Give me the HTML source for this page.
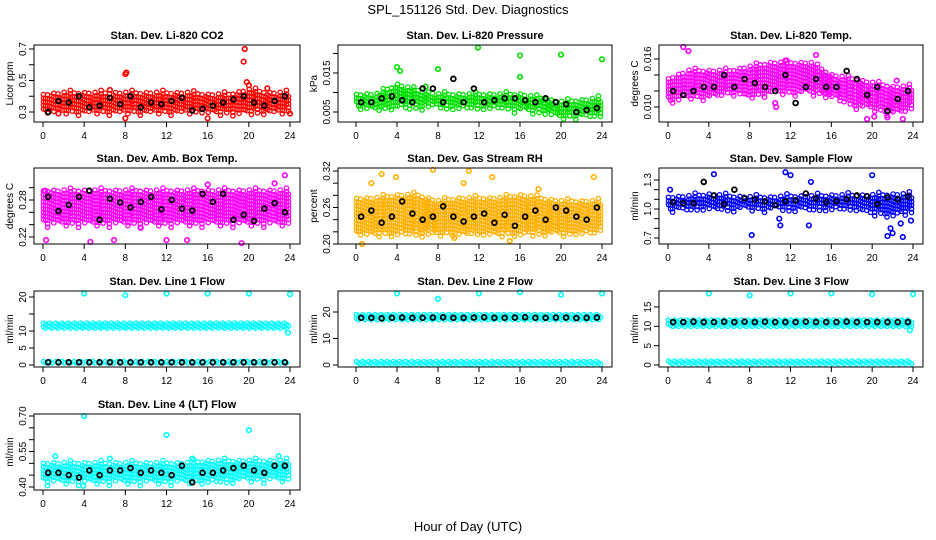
<!DOCTYPE html>
<html><head><meta charset="utf-8">
<style>
body{margin:0;background:#fff;}
svg{display:block;font-family:"Liberation Sans",sans-serif;}
</style></head>
<body>
<svg id="chart" width="936" height="540" viewBox="0 0 936 540">
<rect width="936" height="540" fill="#fff"/>
<text x="468" y="14" text-anchor="middle" font-size="13">SPL_151126  Std. Dev. Diagnostics</text>
<text x="468" y="531" text-anchor="middle" font-size="13">Hour of Day (UTC)</text>
</svg>
<script>
// x categories
const bandHours = [0,2,4,6,8,10,12,14,16,18,20,22,24];
const blackHours = [0.5,1.5,2.5,3.5,4.5,5.5,6.5,7.5,8.5,9.5,10.5,11.5,12.5,13.5,14.5,15.5,16.5,17.5,18.5,19.5,20.5,21.5,22.5,23.5];
const xTicks = [0,4,8,12,16,20,24];

// CO2
const co2Lo = [0.31,0.31,0.31,0.31,0.31,0.31,0.31,0.31,0.31,0.31,0.31,0.31,0.31];
const co2Hi = [0.41,0.42,0.42,0.42,0.42,0.42,0.42,0.42,0.41,0.41,0.44,0.42,0.42];
const co2Black = [0.30,0.37,0.36,0.40,0.33,0.34,0.39,0.35,0.40,0.33,0.36,0.35,0.37,0.39,0.31,0.32,0.34,0.36,0.38,0.40,0.36,0.34,0.37,0.40];
const co2OutH = [8,8.1,19.6,19.5,8,16,1.5,6.5,19.8,21.8,20,24];
const co2OutV = [0.54,0.55,0.70,0.62,0.26,0.26,0.29,0.44,0.49,0.45,0.47,0.29];
// Pressure
const presLo = [0.0065,0.006,0.0065,0.007,0.007,0.0065,0.0065,0.0065,0.006,0.0055,0.004,0.0045,0.0045];
const presHi = [0.0095,0.0095,0.012,0.0105,0.0095,0.0095,0.0095,0.0095,0.0095,0.0085,0.0075,0.008,0.0085];
const presBlack = [0.0075,0.0075,0.0085,0.009,0.008,0.0075,0.011,0.011,0.0075,0.0135,0.0075,0.011,0.0075,0.008,0.0085,0.0085,0.008,0.0075,0.0085,0.0075,0.007,0.005,0.0055,0.006];
const presOutH = [4,4.3,8,11.9,16,16,20,24,6.8,18.2];
const presOutV = [0.0165,0.0155,0.016,0.0215,0.0195,0.014,0.0197,0.0185,0.0115,0.008];
// Li-820 temp
const tempLo = [0.011,0.0115,0.0115,0.012,0.0115,0.012,0.012,0.012,0.0115,0.0105,0.010,0.0095,0.010];
const tempHi = [0.0135,0.0145,0.0145,0.0145,0.015,0.0155,0.0155,0.0155,0.014,0.0135,0.013,0.0125,0.0125];
const tempBlack = [0.012,0.0115,0.012,0.0125,0.0125,0.014,0.0125,0.0135,0.013,0.0125,0.012,0.014,0.0105,0.0125,0.0135,0.0125,0.0125,0.0145,0.0135,0.0115,0.0125,0.0095,0.011,0.012];
const tempOutH = [1.5,2,10.5,10.6,19.5,20.2,21.5,23,11.5,3.8,22.4,14.5];
const tempOutV = [0.0175,0.017,0.0105,0.010,0.0085,0.0088,0.0087,0.0085,0.0158,0.0142,0.0133,0.0165];
// Amb box temp
const ambLo = [0.245,0.245,0.245,0.245,0.245,0.245,0.245,0.245,0.245,0.245,0.245,0.245,0.245];
const ambHi = [0.295,0.295,0.295,0.295,0.295,0.295,0.295,0.295,0.295,0.295,0.295,0.295,0.295];
const ambBlack = [0.285,0.262,0.272,0.285,0.295,0.248,0.282,0.276,0.268,0.277,0.285,0.265,0.28,0.266,0.263,0.29,0.277,0.29,0.248,0.256,0.246,0.266,0.275,0.26];
const ambOutH = [0.3,4.6,19.3,23.5,16,0.2,9.5,12,22.5,6.9,14];
const ambOutV = [0.215,0.212,0.21,0.32,0.305,0.295,0.235,0.215,0.307,0.215,0.215];
// Gas stream RH
const rhLo = [0.22,0.22,0.22,0.22,0.22,0.22,0.22,0.22,0.22,0.22,0.22,0.22,0.225];
const rhHi = [0.275,0.275,0.28,0.28,0.27,0.275,0.275,0.275,0.28,0.275,0.27,0.27,0.27];
const rhBlack = [0.245,0.255,0.235,0.245,0.27,0.25,0.24,0.245,0.262,0.245,0.237,0.245,0.25,0.235,0.248,0.23,0.245,0.255,0.24,0.26,0.255,0.245,0.24,0.26];
const rhOutH = [0.6,2.5,3.9,7.5,9.6,11,15,17.8,23.2,13.3,10.5,1.5];
const rhOutV = [0.20,0.315,0.31,0.322,0.21,0.32,0.205,0.29,0.31,0.31,0.30,0.30];
// Sample flow
const flowLo = [1.02,1.02,1.02,1.02,1.02,1.02,1.02,1.02,1.02,1.02,0.98,0.95,1.0];
const flowHi = [1.12,1.13,1.15,1.13,1.12,1.12,1.13,1.13,1.14,1.14,1.14,1.15,1.15];
const flowBlack = [1.07,1.06,1.06,1.28,1.14,1.05,1.2,1.11,1.1,1.08,1.04,1.08,1.09,1.16,1.11,1.07,1.08,1.1,1.14,1.13,1.05,1.12,1.1,1.13];
const flowOutH = [4.5,11.5,12,20,8.2,21.5,22,23,21.8,13.8,11,23.8,22.8,10.9,0.2,14];
const flowOutV = [1.36,1.38,1.35,1.35,0.73,0.72,0.75,0.71,0.8,0.83,0.83,0.88,0.85,0.9,1.2,1.28];
// Line 1
const l1Lo = [10.5,10.5,10.5,10.5,10.5,10.5,10.5,10.5,10.5,10.5,10.5,10.5,10.5];
const l1Hi = [12.3,12.3,12.3,12.3,12.3,12.3,12.3,12.3,12.3,12.3,12.3,12.3,12.3];
const l1LowLo = [0.3,0.3,0.3,0.3,0.3,0.3,0.3,0.3,0.3,0.3,0.3,0.3,0.3];
const l1LowHi = [1.0,1.0,1.0,1.0,1.0,1.0,1.0,1.0,1.0,1.0,1.0,1.0,1.0];
const l1Black = [0.8,0.8,0.8,0.8,0.8,0.8,0.8,0.8,0.8,0.8,0.8,0.8,0.8,0.8,0.8,0.8,0.8,0.8,0.8,0.8,0.8,0.8,0.8,0.8];
const l1OutH = [4,8,12,16,20,24,23.8];
const l1OutV = [21,20.5,21,21,21,20.8,9.5];
// Line 2
const l2Lo = [17,17,17,17,17,17,17,17,17,17,17,17,17];
const l2Hi = [19,19,19,19,19,19,19,19,19,19,19,19,19];
const l2LowLo = [0.3,0.3,0.3,0.3,0.3,0.3,0.3,0.3,0.3,0.3,0.3,0.3,0.3];
const l2LowHi = [1.3,1.3,1.3,1.3,1.3,1.3,1.3,1.3,1.3,1.3,1.3,1.3,1.3];
const l2Black = [17.8,17.8,17.6,17.8,17.9,17.8,17.8,17.9,18.0,17.8,17.8,17.9,18.0,17.8,17.8,17.9,18.0,17.8,17.8,17.9,17.9,17.7,17.8,17.9];
const l2OutH = [4,8,12,16,20,24];
const l2OutV = [27,25,27,27.5,26.5,27];
// Line 3
const l3Lo = [9.8,9.8,9.8,9.8,9.8,9.8,9.8,9.8,9.8,9.8,9.8,9.8,9.8];
const l3Hi = [11.6,11.6,11.6,11.6,11.6,11.6,11.6,11.6,11.6,11.6,11.6,11.6,11.6];
const l3LowLo = [0.2,0.2,0.2,0.2,0.2,0.2,0.2,0.2,0.2,0.2,0.2,0.2,0.2];
const l3LowHi = [1.0,1.0,1.0,1.0,1.0,1.0,1.0,1.0,1.0,1.0,1.0,1.0,1.0];
const l3Black = [11.1,11.1,11.2,11.1,11.1,11.2,11.1,11.2,11.1,11.2,11.1,11.1,11.1,11.2,11.1,11.1,11.1,11.2,11.1,11.1,11.1,11.1,11.1,11.1];
const l3OutH = [4,8,12,16,20,24,23.7];
const l3OutV = [18.5,18,18.5,18.5,18.3,18.3,9];
// Line 4
const l4Lo = [0.43,0.43,0.43,0.43,0.43,0.43,0.43,0.43,0.43,0.43,0.44,0.44,0.44];
const l4Hi = [0.50,0.50,0.50,0.50,0.50,0.50,0.50,0.50,0.51,0.51,0.51,0.51,0.51];
const l4Black = [0.46,0.46,0.45,0.44,0.47,0.45,0.47,0.47,0.48,0.46,0.47,0.46,0.45,0.49,0.42,0.46,0.46,0.47,0.48,0.49,0.47,0.46,0.49,0.49];
const l4OutH = [4,12,20,3.9,1.2,22.9,14.5,6.5];
const l4OutV = [0.70,0.62,0.64,0.405,0.53,0.53,0.52,0.52];

// layout (not data)
const cols = [[34,300,43,290],[338,612,356,602],[659,923,668,913]];
const rows = [[45,122],[168,244],[291,367],[414,490]];
const svg = document.getElementById('chart');
const NS = 'http://www.w3.org/2000/svg';
function mk(tag, attrs, parent){const e=document.createElementNS(NS,tag);for(const k in attrs)e.setAttribute(k,attrs[k]);(parent||svg).appendChild(e);return e;}
function interp(arr,h){const i=Math.min(11,Math.floor(h/2));const t=(h-bandHours[i])/(bandHours[i+1]-bandHours[i]);return arr[i]+(arr[i+1]-arr[i])*t;}
const rag=[0,3,-2,5,1,-3,4,-1,2,6,-2,0,3,-4,1];

const panels = [
 {title:'Stan. Dev. Li-820 CO2',ylab:'Licor ppm',c:0,r:0,ref:[0.3,112,0.7,49],ticks:[0.3,0.4,0.5,0.6,0.7],labels:['0.3',null,'0.5',null,'0.7'],col:'#ff0000',bands:[[co2Lo,co2Hi]],black:co2Black,oh:co2OutH,ov:co2OutV},
 {title:'Stan. Dev. Li-820 Pressure',ylab:'kPa',c:1,r:0,ref:[0.005,112,0.015,73],ticks:[0.005,0.010,0.015,0.020],labels:['0.005',null,'0.015',null],col:'#00e000',bands:[[presLo,presHi]],black:presBlack,oh:presOutH,ov:presOutV},
 {title:'Stan. Dev. Li-820 Temp.',ylab:'degrees C',c:2,r:0,ref:[0.010,107,0.016,59],ticks:[0.010,0.012,0.014,0.016],labels:['0.010',null,null,'0.016'],col:'#ff00ff',bands:[[tempLo,tempHi]],black:tempBlack,oh:tempOutH,ov:tempOutV},
 {title:'Stan. Dev. Amb. Box Temp.',ylab:'degrees C',c:0,r:1,ref:[0.22,237,0.28,200],ticks:[0.22,0.24,0.26,0.28,0.30],labels:['0.22',null,null,'0.28',null],col:'#ff00ff',bands:[[ambLo,ambHi]],black:ambBlack,oh:ambOutH,ov:ambOutV},
 {title:'Stan. Dev. Gas Stream RH',ylab:'percent',c:1,r:1,ref:[0.20,244,0.32,171],ticks:[0.20,0.22,0.24,0.26,0.28,0.30,0.32],labels:['0.20',null,null,'0.26',null,null,'0.32'],col:'#ffb000',bands:[[rhLo,rhHi]],black:rhBlack,oh:rhOutH,ov:rhOutV},
 {title:'Stan. Dev. Sample Flow',ylab:'ml/min',c:2,r:1,ref:[0.7,238,1.3,180],ticks:[0.7,0.8,0.9,1.0,1.1,1.2,1.3],labels:['0.7',null,null,'1.0',null,null,'1.3'],col:'#0000ff',bands:[[flowLo,flowHi]],black:flowBlack,oh:flowOutH,ov:flowOutV},
 {title:'Stan. Dev. Line 1 Flow',ylab:'ml/min',c:0,r:2,ref:[0,365,20,297],ticks:[0,5,10,15,20],labels:['0','5','10',null,'20'],col:'#00ffff',bands:[[l1Lo,l1Hi],[l1LowLo,l1LowHi]],black:l1Black,oh:l1OutH,ov:l1OutV},
 {title:'Stan. Dev. Line 2 Flow',ylab:'ml/min',c:1,r:2,ref:[0,365,20,312],ticks:[0,10,20],labels:['0','10','20'],col:'#00ffff',bands:[[l2Lo,l2Hi],[l2LowLo,l2LowHi]],black:l2Black,oh:l2OutH,ov:l2OutV},
 {title:'Stan. Dev. Line 3 Flow',ylab:'ml/min',c:2,r:2,ref:[0,365,15,307],ticks:[0,5,10,15],labels:['0','5','10','15'],col:'#00ffff',bands:[[l3Lo,l3Hi],[l3LowLo,l3LowHi]],black:l3Black,oh:l3OutH,ov:l3OutV},
 {title:'Stan. Dev. Line 4 (LT) Flow',ylab:'ml/min',c:0,r:3,ref:[0.40,487,0.70,416],ticks:[0.40,0.45,0.50,0.55,0.60,0.65,0.70],labels:['0.40',null,null,'0.55',null,null,'0.70'],col:'#00ffff',bands:[[l4Lo,l4Hi]],black:l4Black,oh:l4OutH,ov:l4OutV}
];

panels.forEach((p,pi)=>{
  const [bx0,bx1,t0,t1]=cols[p.c]; const [by0,by1]=rows[p.r];
  const xs=h=>t0+h/24*(t1-t0);
  const ys=v=>p.ref[1]+(v-p.ref[0])/(p.ref[2]-p.ref[0])*(p.ref[3]-p.ref[1]);
  const g=mk('g',{});
  
  
  const t=mk('text',{x:(bx0+bx1)/2,y:by0-6,'text-anchor':'middle','font-size':'11','font-weight':'bold'},g);
  t.textContent=p.title;
  
  
  const clip=mk('clipPath',{id:'cp'+pi},g);
  mk('rect',{x:bx0-4,y:by0-4,width:bx1-bx0+8,height:by1-by0+8},clip);
  const mg=mk('g',{'clip-path':'url(#cp'+pi+')',fill:'none','stroke-width':'1.3'},g);
  
  
  let d='';
  p.bands.forEach(([lo,hi])=>{
    let k=0;
    for(let h=0.05;h<=23.9;h+=0.2){
      const small=(interp(lo,h)-interp(hi,h));
      let yl=ys(interp(lo,h)), yh=ys(interp(hi,h));
      const span=yl-yh;
      if(span>8){yh+=rag[k%15]; yl+=rag[(k+7)%15];}
      const off=(k%3)*1.3;
      for(let y=yh+off;y<=yl;y+=3.6){d+='M'+(xs(h)+2.2).toFixed(1)+' '+y.toFixed(1)+'a2.2 2.2 0 1 0 -4.4 0a2.2 2.2 0 1 0 4.4 0';}
      k++;
    }
  });
  const bp=mk('path',{d:d,stroke:p.col},mg);
  
  
  p.oh.forEach((h,i)=>{
    const c=mk('circle',{cx:xs(h),cy:ys(p.ov[i]),r:2.3,stroke:p.col,'stroke-width':'1.6'},mg);
    
    
  });
  p.black.forEach((v,i)=>{
    const c=mk('circle',{cx:xs(blackHours[i]),cy:ys(v),r:2.4,stroke:'#000','stroke-width':'1.8'},mg);
    
    
  });
  const box=mk('rect',{x:bx0,y:by0,width:bx1-bx0,height:by1-by0,fill:'none',stroke:'#000','stroke-width':'1'},g);
  
  
  xTicks.forEach(h=>{
    mk('line',{x1:xs(h),x2:xs(h),y1:by1,y2:by1+5,stroke:'#000'},g);
    const tl=mk('text',{x:xs(h),y:by1+17,'text-anchor':'middle','font-size':'10'},g);
    tl.textContent=h;
    
    
  });
  p.ticks.forEach((v,i)=>{
    const y=ys(v);
    mk('line',{x1:bx0-5,x2:bx0,y1:y,y2:y,stroke:'#000'},g);
    if(p.labels[i]){
      const tl=mk('text',{x:bx0-8,y:y,'text-anchor':'middle','font-size':'10',transform:'rotate(-90 '+(bx0-8)+' '+y+')'},g);
      tl.textContent=p.labels[i];
      
      
    }
  });
  const yl=mk('text',{x:bx0-21,y:(by0+by1)/2,'text-anchor':'middle','font-size':'10',transform:'rotate(-90 '+(bx0-21)+' '+((by0+by1)/2)+')'},g);
  yl.textContent=p.ylab;
  
  
});
</script>
</body></html>
